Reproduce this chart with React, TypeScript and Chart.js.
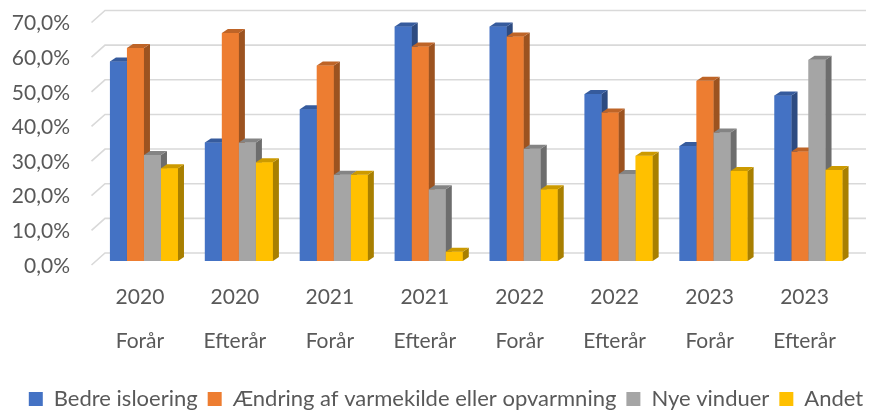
import React, { useEffect, useRef } from "react";
import { Chart, registerables } from "chart.js";

Chart.register(...registerables);

// ---- Data ----
const years = ["2020", "2020", "2021", "2021", "2022", "2022", "2023", "2023"];
const seasons = ["Forår", "Efterår", "Forår", "Efterår", "Forår", "Efterår", "Forår", "Efterår"];
const seriesNames = [
  "Bedre isloering",
  "Ændring af varmekilde eller opvarmning",
  "Nye vinduer",
  "Andet",
];
const bedreIsolering = [0.576, 0.342, 0.438, 0.677, 0.677, 0.482, 0.332, 0.478];
const aendringVarmekilde = [0.615, 0.658, 0.564, 0.619, 0.648, 0.429, 0.52, 0.316];
const nyeVinduer = [0.306, 0.342, 0.249, 0.207, 0.324, 0.251, 0.371, 0.581];
const andet = [0.268, 0.285, 0.249, 0.027, 0.207, 0.304, 0.26, 0.263];
const yTickValues = [0, 0.1, 0.2, 0.3, 0.4, 0.5, 0.6, 0.7];
const seriesColors = ["#4472C4", "#ED7D31", "#A5A5A5", "#FFC000"];

const FONT = "Lato, 'Open Sans', sans-serif";
const TEXT = "#595959";
const DX = 6;
const DY = 4;

function shade(hex: string, f: number): string {
  const n = parseInt(hex.slice(1), 16);
  const r = Math.round(((n >> 16) & 255) * f);
  const g = Math.round(((n >> 8) & 255) * f);
  const b = Math.round((n & 255) * f);
  return `rgb(${r},${g},${b})`;
}

const wallPlugin = {
  id: "wall3d",
  afterLayout(chart: any) {
    // nudge the legend row to the right, as in the reference
    if (chart.legend) {
      chart.legend.left += 9;
      chart.legend.right += 9;
    }
  },
  beforeDatasetsDraw(chart: any) {
    const { ctx, chartArea } = chart;
    const ys = chart.scales.y;
    ctx.save();
    ctx.strokeStyle = "#D9D9D9";
    ctx.lineWidth = 1.6;
    for (const v of yTickValues) {
      const y = ys.getPixelForValue(v);
      ctx.beginPath();
      ctx.moveTo(chartArea.left - 5, y + 4);
      ctx.lineTo(chartArea.left + 8.5, y - 8);
      ctx.lineTo(chart.width - 8, y - 8);
      ctx.stroke();
    }
    ctx.restore();
  },
};

const barsPlugin = {
  id: "bars3d",
  afterDatasetsDraw(chart: any) {
    const { ctx } = chart;
    const nCat = chart.data.labels.length;
    const nSets = chart.data.datasets.length;
    ctx.save();
    for (let i = 0; i < nCat; i++) {
      for (let d = 0; d < nSets; d++) {
        const meta = chart.getDatasetMeta(d);
        const el = meta.data[i];
        if (!el) continue;
        const { x, y, base, width } = el.getProps(["x", "y", "base", "width"], true);
        const color = seriesColors[d];
        const l = x - width / 2;
        const r = x + width / 2;
        // front
        ctx.fillStyle = color;
        ctx.fillRect(l, y, r - l, base - y);
        // side
        ctx.fillStyle = shade(color, 0.66);
        ctx.beginPath();
        ctx.moveTo(r, y);
        ctx.lineTo(r + DX, y - DY);
        ctx.lineTo(r + DX, base - DY);
        ctx.lineTo(r, base);
        ctx.closePath();
        ctx.fill();
        // top
        ctx.fillStyle = shade(color, 0.8);
        ctx.beginPath();
        ctx.moveTo(l, y);
        ctx.lineTo(l + DX, y - DY);
        ctx.lineTo(r + DX, y - DY);
        ctx.lineTo(r, y);
        ctx.closePath();
        ctx.fill();
      }
    }
    ctx.restore();
  },
};

export default function App() {
  const ref = useRef<HTMLCanvasElement | null>(null);

  useEffect(() => {
    document.body.style.margin = "0";
    const canvas = ref.current;
    if (!canvas) return;
    const values = [bedreIsolering, aendringVarmekilde, nyeVinduer, andet];
    const chart = new Chart(canvas, {
      type: "bar",
      data: {
        labels: years.map((y, i) => [y, seasons[i]]),
        datasets: seriesNames.map((name, i) => ({
          label: name,
          data: values[i],
          backgroundColor: seriesColors[i],
          borderWidth: 0,
          categoryPercentage: 0.7165,
          barPercentage: 1,
          yAxisID: "y",
        })),
      },
      options: {
        animation: false,
        responsive: false,
        maintainAspectRatio: false,
        layout: { padding: { left: 0, right: 0, top: 18.5, bottom: -8 } },
        plugins: {
          tooltip: { enabled: false },
          legend: {
            position: "bottom",
            labels: {
              boxWidth: 14,
              boxHeight: 14,
              padding: 10,
              color: TEXT,
              font: { family: FONT, size: 22 },
            },
          },
        },
        scales: {
          x: {
            grid: { display: false, drawTicks: false },
            border: { display: false },
            ticks: {
              color: TEXT,
              font: { family: FONT, size: 21, lineHeight: 2.1 },
              padding: 14.5,
              labelOffset: -4,
              maxRotation: 0,
              autoSkip: false,
            },
            afterFit: (s: any) => {
              s.height = 117;
            },
          },
          y: {
            min: 0,
            max: 0.7,
            grid: { display: false, drawTicks: false },
            border: { display: false },
            ticks: {
              stepSize: 0.1,
              autoSkip: false,
              color: TEXT,
              font: { family: FONT, size: 21 },
              padding: 26.5,
              labelOffset: 5,
              callback: (v: any) => (Number(v) * 100).toFixed(1).replace(".", ",") + "%",
            },
            afterFit: (s: any) => {
              s.width = 96.5;
              s.paddingTop = 0;
              s.paddingBottom = 0;
            },
          },
          yRight: {
            position: "right",
            display: true,
            min: 0,
            max: 0.7,
            grid: { display: false, drawTicks: false },
            border: { display: false },
            ticks: { display: false },
            afterFit: (s: any) => {
              s.width = 18;
              s.paddingTop = 0;
              s.paddingBottom = 0;
            },
          },
        },
      },
      plugins: [wallPlugin, barsPlugin],
    });
    return () => chart.destroy();
  }, []);

  return (
    <div style={{ width: 874, height: 412, background: "#fff" }}>
      <canvas ref={ref} width={874} height={412} style={{ display: "block" }} />
    </div>
  );
}
